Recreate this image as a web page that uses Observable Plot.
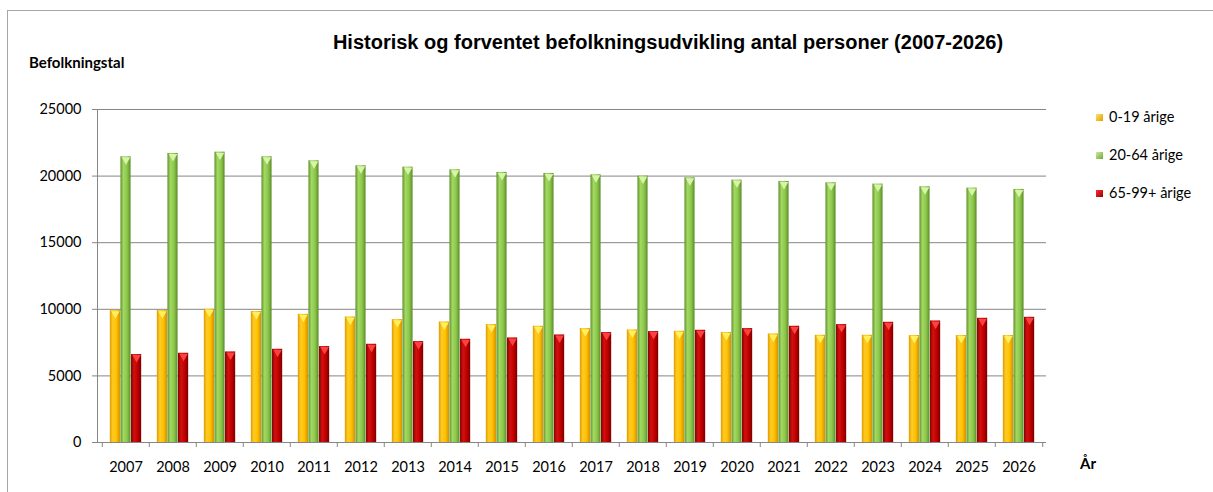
<!DOCTYPE html>
<html><head><meta charset="utf-8">
<script src="https://cdn.jsdelivr.net/npm/d3@7"></script>
<script src="https://cdn.jsdelivr.net/npm/@observablehq/plot@0.6"></script>
<style>
body{margin:0;background:#fff;}
#wrap{position:relative;width:1213px;height:492px;overflow:hidden;font-family:Lato,sans-serif;color:#000;}
#border{position:absolute;left:7px;top:10px;width:1400px;height:700px;border:1.5px solid #a6a6a6;}
#chart{position:absolute;left:0;top:0;}
#title{position:absolute;left:268px;width:800px;top:31px;line-height:22px;text-align:center;font:bold 20px "Liberation Sans",Arial,sans-serif;}
#ylabel{position:absolute;left:29px;top:53px;line-height:18px;font:bold 15px Lato,sans-serif;}
#xlabel{position:absolute;left:1080px;top:454px;line-height:18px;font:bold 15px Lato,sans-serif;}
.item{position:absolute;left:1096px;height:18px;line-height:18px;font:14.5px Lato,sans-serif;white-space:nowrap;}
.sw{display:inline-block;width:7px;height:7px;margin-right:6px;vertical-align:middle;position:relative;top:-1px;}
</style></head>
<body>
<div id="wrap">
  <div id="border"></div>
  <div id="chart"></div>
  <div id="title"></div>
  <div id="ylabel"></div>
  <div id="xlabel"></div>
  <div id="legend"></div>
</div>
<script>
const title = "Historisk og forventet befolkningsudvikling antal personer (2007-2026)";
const yLabel = "Befolkningstal";
const xLabel = "År";
const years = [2007,2008,2009,2010,2011,2012,2013,2014,2015,2016,2017,2018,2019,2020,2021,2022,2023,2024,2025,2026];
const series = ["0-19 årige","20-64 årige","65-99+ årige"];
const age0_19  = [9900,9900,10000,9830,9620,9425,9225,9050,8850,8725,8550,8450,8350,8250,8150,8050,8050,8025,8025,8025];
const age20_64 = [21450,21700,21800,21450,21150,20775,20675,20475,20275,20200,20100,20000,19875,19700,19600,19500,19400,19200,19100,19000];
const age65_99 = [6600,6700,6800,7000,7200,7375,7575,7750,7850,8075,8250,8325,8425,8550,8725,8850,9025,9125,9325,9400];
const yTicks = [0,5000,10000,15000,20000,25000];

const colors = [
  {id:"gY", stops:["#dc9c00","#ffcc26","#ffc000","#d39000"], cap:"#fff060", sw:"linear-gradient(135deg,#ffe066,#e0a000)"},
  {id:"gG", stops:["#62922e","#a2d862","#8cc84b","#5c8c2b"], cap:"#d6f5a8", sw:"linear-gradient(135deg,#c8eea0,#72a83a)"},
  {id:"gR", stops:["#7e0000","#d41010","#c00000","#7a0000"], cap:"#ff4040", sw:"linear-gradient(135deg,#ff3030,#9a0000)"}
];
const values = [age0_19, age20_64, age65_99];

const W = 1213, H = 492, mL = 97, mR = 167, mT = 109, mB = 50;
const step = (W - mL - mR) / years.length;
const bw = 10.6;
const outer = (step - 3 * bw) / 2;

const data = series.map((s, i) => years.map((y, j) => ({year: y, series: s, value: values[i][j]})));

const defs = () => {
  const d = d3.create("svg:defs");
  colors.forEach(c => {
    const g = d.append("linearGradient").attr("id", c.id).attr("x1", 0).attr("x2", 1).attr("y1", 0).attr("y2", 0);
    [0, 0.3, 0.65, 1].forEach((o, k) => g.append("stop").attr("offset", o).attr("stop-color", c.stops[k]));
  });
  return d.node();
};

const barMarks = [];
series.forEach((s, i) => {
  barMarks.push(Plot.barY(data[i], {
    x: "year", y: "value",
    fill: `url(#${colors[i].id})`,
    insetLeft: outer + i * bw,
    insetRight: step - outer - (i + 1) * bw
  }));
  barMarks.push(Plot.dot(data[i], {
    x: "year", y: "value", symbol: "triangle", rotate: 180, r: 3.2,
    fill: colors[i].cap, dx: (i - 1) * bw, dy: 3
  }));
});

const chart = Plot.plot({
  width: W, height: H,
  marginLeft: mL, marginRight: mR, marginTop: mT, marginBottom: mB,
  style: {fontFamily: "Lato, sans-serif", fontSize: "14px", color: "#000", background: "transparent"},
  x: {type: "band", domain: years, padding: 0},
  y: {domain: [0, 25000]},
  marks: [
    defs,
    Plot.gridY(yTicks, {stroke: "#868686", strokeOpacity: 1}),
    Plot.frame({anchor: "left", stroke: "#868686"}),
    Plot.ruleX(years, {x: d => d, y1: 0, y2: 0, insetBottom: -5, dx: -step / 2, stroke: "#868686"}),
    Plot.ruleX([years[years.length - 1]], {x: d => d, y1: 0, y2: 0, insetBottom: -5, dx: step / 2, stroke: "#868686"}),
    ...barMarks,
    Plot.axisY({ticks: yTicks, tickSize: 5, tickPadding: 11, tickFormat: d3.format("d"), label: null, stroke: "#868686", fontSize: 14.5}),
    Plot.axisX({tickSize: 0, tickPadding: 19, label: null, fontSize: 14.5, tickFormat: d => String(d)})
  ]
});
document.getElementById("chart").appendChild(chart);
document.getElementById("title").textContent = title;
document.getElementById("ylabel").textContent = yLabel;
document.getElementById("xlabel").textContent = xLabel;
const legendY = [117, 155, 193];
const leg = document.getElementById("legend");
series.forEach((s, i) => {
  const it = document.createElement("div");
  it.className = "item";
  it.style.top = (legendY[i] - 9) + "px";
  const sw = document.createElement("span");
  sw.className = "sw";
  sw.style.background = colors[i].sw;
  it.appendChild(sw);
  it.appendChild(document.createTextNode(s));
  leg.appendChild(it);
});
</script>
</body></html>
